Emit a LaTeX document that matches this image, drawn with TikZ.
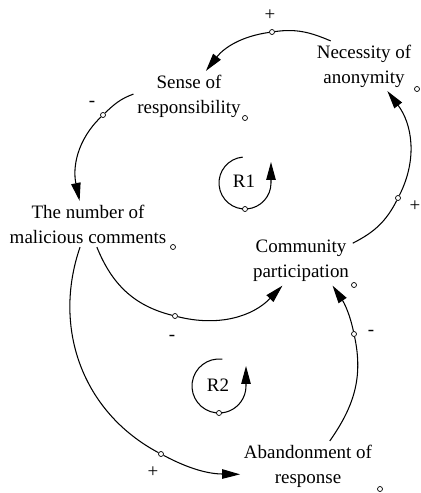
\documentclass[tikz,border=0pt]{standalone}
\usepackage{fontspec}
\setmainfont{Liberation Serif}
\usetikzlibrary{arrows.meta}

\tikzset{
  var/.style={align=center, inner sep=2pt, font=\fontsize{10.8}{14.2}\selectfont},
  handle/.style={circle, draw, fill=white, line width=0.4pt, inner sep=0pt, minimum size=0.1cm},
  sign/.style={inner sep=0pt, font=\fontsize{10.8}{13}\selectfont},
  link/.style={line width=0.6pt, -{Triangle[length=0.36cm,width=0.19cm]}},
}

\begin{document}
\begin{tikzpicture}[x=0.02cm, y=0.02cm]
        \useasboundingbox (0,0) rectangle (421,-493);

        % Variables
        \node[var] (nec) at (364,-66) {Necessity of\\anonymity};
        \node[var] (sense) at (189,-96) {Sense of\\responsibility};
        \node[var] (num) at (88,-224) {The number of\\malicious comments};
        \node[var] (comm) at (301,-261) {Community\\participation};
        \node[var] (aband) at (308,-466) {Abandonment of\\response};

        % Variable markers
        \node[handle] (nec-m) at (417,-89) {};
        \node[handle] (sense-m) at (245,-118) {};
        \node[handle] (num-m) at (173,-247) {};
        \node[handle] (comm-m) at (354,-285) {};
        \node[handle] (aband-m) at (380,-489) {};

        % Link handles
        \node[handle] (h1) at (272,-32) {};
        \node[handle] (h2) at (103,-115) {};
        \node[handle] (h3) at (175,-316) {};
        \node[handle] (h4) at (398,-198) {};
        \node[handle] (h5) at (161,-454) {};
        \node[handle] (h6) at (354,-334) {};

        % Causal links
        \draw[link] (nec.143) to[out=157,in=8] (h1) to[out=188,in=52] (sense.56);
        \draw[link] (sense.178) to[out=200,in=44] (h2) to[out=224,in=102] (num.110);
        \draw[link] (num.291) to[out=292,in=166] (h3) to[out=346,in=226] (comm.233);
        \draw[link] (comm.19) to[out=27,in=243] (h4) to[out=63,in=307] (nec.313);
        \draw[link] (num.251) to[out=251,in=152] (h5) to[out=332,in=179] (aband.187);
        \draw[link] (aband.49) to[out=55,in=282] (h6) to[out=102,in=304] (comm.322);

        % Polarities
        \node[sign] (s1) at (270,-15) {+};
        \node[sign] (s2) at (92,-104) {-};
        \node[sign] (s3) at (172,-338) {-};
        \node[sign] (s4) at (415,-206) {+};
        \node[sign] (s5) at (153,-472) {+};
        \node[sign] (s6) at (371,-333) {-};

        % Loops
        \node[var] (r1) at (244,-181) {R1};
        \draw[link] ([shift={(95:26)}]245,-183) arc[start angle=95, end angle=360, radius=26] -- ++(0,21);
        \node[handle] (r1-m) at (245,-209) {};

        \node[var] (r2) at (218,-385) {R2};
        \draw[link] ([shift={(83:27)}]219,-386) arc[start angle=83, end angle=360, radius=27] -- ++(0,20);
        \node[handle] (r2-m) at (219,-413) {};
    \end{tikzpicture}
\end{document}
